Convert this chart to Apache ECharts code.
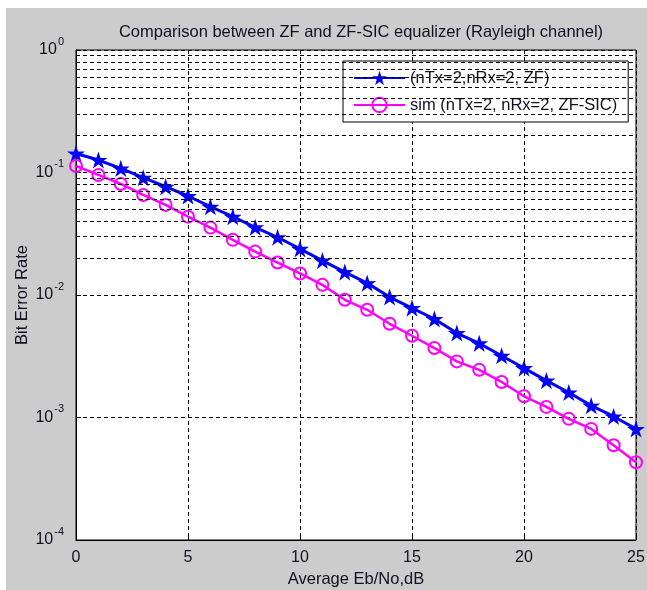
<!DOCTYPE html>
<html>
<head>
<meta charset="utf-8">
<script src="https://cdn.jsdelivr.net/npm/echarts@6/dist/echarts.min.js"></script>
<style>
  html, body { margin: 0; padding: 0; background: #ffffff; }
  #chart { position: absolute; left: 6px; top: 8px; width: 641px; height: 582px; }
</style>
</head>
<body>
<div id="chart"></div>
<script>
// ---- data ----
const snrDb = [0,1,2,3,4,5,6,7,8,9,10,11,12,13,14,15,16,17,18,19,20,21,22,23,24,25];
const berZF = [0.143,0.1264,0.108,0.0907,0.0766,0.0643,0.0526,0.0436,0.0357,0.0296,
               0.0238,0.0191,0.01538,0.0125,0.00962,0.00782,0.00637,0.00489,0.00403,0.00319,
               0.00253,0.00200,0.00160,0.00125,0.00102,0.000807];
const berSIC = [0.113,0.0955,0.0806,0.0656,0.0544,0.0436,0.0355,0.0282,0.0226,0.0184,
                0.0150,0.0121,0.00914,0.00757,0.00582,0.00465,0.00369,0.00287,0.00245,0.00195,
                0.00149,0.00122,0.000975,0.000807,0.000593,0.000431];
const seriesNames = ['(nTx=2,nRx=2, ZF)', 'sim (nTx=2, nRx=2, ZF-SIC)'];
const titleText = 'Comparison between ZF and ZF-SIC equalizer (Rayleigh channel)';
const xName = 'Average Eb/No,dB';
const yName = 'Bit Error Rate';
const xTicks = [0,5,10,15,20,25];
const yDecades = [1e-4,1e-3,1e-2,1e-1,1];
const minorMultipliers = [2,3,4,5,6,7,8,9];

// minor grid values (2..9 x each decade)
const minorGrid = [];
for (let i = 0; i < yDecades.length - 1; i++) {
  for (const m of minorMultipliers) minorGrid.push(m * yDecades[i]);
}

const FONT = "'Liberation Sans', Arial, sans-serif";
const starPath = 'path://M0,-100L22.3,-30.7L95.1,-30.9L36.1,11.7L58.8,80.9L0,38L-58.8,80.9L-36.1,11.7L-95.1,-30.9L-22.3,-30.7Z';
const dash = [4, 3];
const TXT = '#101020';

const chart = echarts.init(document.getElementById('chart'), null, { renderer: 'canvas' });
chart.setOption({
  backgroundColor: '#cccccc',
  animation: false,
  title: {
    text: titleText,
    left: 350, top: 11, textAlign: 'center',
    textStyle: { fontFamily: FONT, fontSize: 16.5, fontWeight: 'normal', color: TXT }
  },
  grid: {
    left: 70, top: 42, right: 11, bottom: 50,
    outerBoundsMode: 'none', containLabel: false,
    show: true, backgroundColor: '#ffffff', borderColor: '#000', borderWidth: 1
  },
  legend: {
    orient: 'vertical',
    left: 337, top: 53,
    backgroundColor: '#ffffff', borderColor: '#000', borderWidth: 1,
    padding: [8, 11, 8, 10],
    itemGap: 9, itemWidth: 51, itemHeight: 18,
    textStyle: { fontFamily: FONT, fontSize: 16.5, color: TXT, lineHeight: 18 },
    data: seriesNames
  },
  xAxis: {
    type: 'value', min: 0, max: 25, interval: 5,
    name: xName, nameLocation: 'middle', nameGap: 31, nameMoveOverlap: false,
    nameTextStyle: { fontFamily: FONT, fontSize: 16.5, color: TXT },
    axisLine: { show: true, lineStyle: { color: '#000' } },
    axisTick: { show: true, inside: true, length: 5, lineStyle: { color: '#000' } },
    axisLabel: { margin: 10, fontFamily: FONT, fontSize: 16, color: TXT,
      formatter: v => (xTicks.indexOf(v) >= 0 ? String(v) : '') },
    splitLine: { show: true, lineStyle: { type: dash, color: '#000', width: 1 } }
  },
  yAxis: {
    type: 'log', logBase: 10, min: 1e-4, max: 1,
    name: yName, nameLocation: 'middle', nameGap: 45, nameRotate: 90, nameMoveOverlap: false,
    nameTextStyle: { fontFamily: FONT, fontSize: 16.5, color: TXT },
    axisLine: { show: true, lineStyle: { color: '#000' } },
    axisTick: { show: true, inside: true, length: 5, lineStyle: { color: '#000' } },
    axisLabel: {
      margin: 12,
      formatter: v => '{b|10}{e|' + Math.round(Math.log10(v)) + '}',
      rich: {
        b: { fontFamily: FONT, fontSize: 16, color: TXT, lineHeight: 16, verticalAlign: 'bottom' },
        e: { fontFamily: FONT, fontSize: 11, color: TXT, lineHeight: 11, padding: [0, 0, 11, 1], verticalAlign: 'bottom' }
      }
    },
    splitLine: { show: true, lineStyle: { type: dash, color: '#000', width: 1 } }
  },
  series: [
    {
      name: '__grid', type: 'line', data: [], z: 1, silent: true,
      markLine: {
        silent: true, symbol: ['none', 'none'], animation: false,
        label: { show: false },
        lineStyle: { type: dash, color: '#000', width: 1 },
        emphasis: { disabled: true },
        data: minorGrid.map(v => ({ yAxis: v }))
      }
    },
    {
      name: seriesNames[0], type: 'line', z: 3,
      data: snrDb.map((x, i) => [x, berZF[i]]),
      symbol: starPath, symbolSize: 18, symbolKeepAspect: true,
      lineStyle: { color: '#0000ff', width: 3 },
      itemStyle: { color: '#0000ff' }
    },
    {
      name: seriesNames[1], type: 'line', z: 4,
      data: snrDb.map((x, i) => [x, berSIC[i]]),
      symbol: 'circle', symbolSize: 12,
      lineStyle: { color: '#ff00ff', width: 2.5 },
      itemStyle: { color: 'rgba(255,255,255,0)', borderColor: '#ff00ff', borderWidth: 2 }
    }
  ]
});
</script>
</body>
</html>
